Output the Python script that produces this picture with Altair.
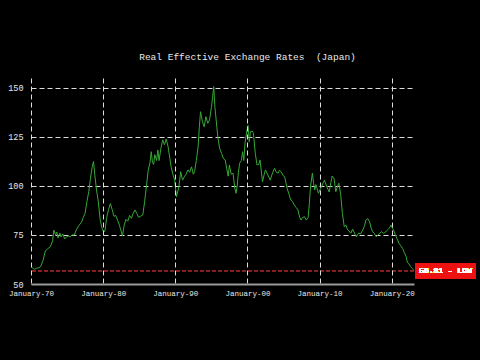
import altair as alt
import pandas as pd

months = [
    "1970-01","1970-04","1970-07","1970-10","1971-01","1971-05","1971-09","1972-01","1972-05","1972-09",
    "1973-01","1973-03","1973-06","1973-08","1973-10","1974-01","1974-03","1974-06","1974-09","1974-12",
    "1975-03","1975-06","1975-09","1976-01","1976-05","1976-09","1977-01","1977-04","1977-07","1977-10",
    "1978-01","1978-04","1978-07","1978-09","1978-11","1979-02","1979-05","1979-08","1979-11","1980-02",
    "1980-04","1980-07","1980-10","1981-01","1981-04","1981-07","1981-10","1982-01","1982-04","1982-07",
    "1982-09","1982-12","1983-03","1983-06","1983-09","1983-12","1984-03","1984-06","1984-09","1984-12",
    "1985-03","1985-07","1985-10","1986-01","1986-04","1986-07","1986-09","1986-11","1987-01","1987-03",
    "1987-06","1987-08","1987-10","1988-01","1988-04","1988-07","1988-10","1989-01","1989-04","1989-06",
    "1989-09","1989-12","1990-03","1990-05","1990-07","1990-10","1991-01","1991-04","1991-07","1991-10",
    "1992-01","1992-04","1992-07","1992-09","1992-12","1993-03","1993-05","1993-07","1993-10","1994-01",
    "1994-04","1994-07","1994-10","1995-01","1995-03","1995-05","1995-07","1995-09","1995-12","1996-03",
    "1996-06","1996-09","1996-12","1997-03","1997-05","1997-07","1997-10","1998-01","1998-04","1998-06",
    "1998-08","1998-10","1998-12","1999-03","1999-05","1999-07","1999-09","1999-12","2000-02","2000-04",
    "2000-06","2000-09","2000-11","2001-02","2001-05","2001-08","2001-10","2002-02","2002-05","2002-07",
    "2002-11","2003-03","2003-06","2003-10","2004-01","2004-04","2004-06","2004-09","2005-01","2005-03",
    "2005-07","2005-10","2006-01","2006-04","2006-07","2006-10","2007-01","2007-04","2007-06","2007-09",
    "2007-12","2008-03","2008-06","2008-08","2008-10","2009-01","2009-03","2009-05","2009-07","2009-11",
    "2010-03","2010-06","2010-09","2011-01","2011-05","2011-08","2011-10","2012-01","2012-04","2012-07",
    "2012-09","2012-12","2013-03","2013-06","2013-09","2013-11","2014-02","2014-05","2014-08","2014-11",
    "2015-02","2015-06","2015-09","2016-01","2016-04","2016-06","2016-09","2016-12","2017-03","2017-05",
    "2017-08","2017-11","2018-02","2018-05","2018-08","2018-11","2019-01","2019-04","2019-06","2019-09",
    "2019-12","2020-02","2020-04","2020-07","2020-10","2021-01","2021-04","2021-07","2021-10","2022-01",
    "2022-03","2022-05","2022-08","2022-11","2023-02",
]
reer = [
    59.0,58.0,57.5,58.0,58.2,58.8,62.0,67.0,68.0,69.0,
    72.0,77.5,75.0,76.5,73.5,76.0,74.0,75.5,73.0,74.0,
    74.5,74.0,75.0,75.0,78.0,80.0,81.5,84.0,86.0,92.0,
    97.0,104.0,110.0,112.5,106.0,98.0,92.0,83.0,78.5,76.5,
    77.0,84.0,88.0,91.0,88.0,84.5,85.0,82.5,80.0,77.0,
    74.5,80.0,83.0,82.0,85.0,83.5,86.0,87.8,86.0,84.0,
    84.5,85.2,92.0,100.0,108.0,112.0,117.5,112.0,111.0,116.0,
    113.0,118.4,113.0,119.0,123.5,121.0,124.0,120.0,114.0,109.8,
    106.0,103.0,94.5,97.0,99.6,107.3,103.0,104.7,106.0,108.2,
    107.0,109.8,106.0,107.3,113.0,120.0,130.0,137.9,133.0,130.2,
    135.4,132.0,133.7,140.0,145.0,150.7,140.0,133.7,124.3,119.0,
    116.7,114.0,113.3,108.2,105.0,110.7,106.0,106.5,99.0,96.3,
    100.0,107.0,111.6,113.0,117.5,113.0,122.0,128.0,131.0,122.6,
    127.7,128.0,126.9,116.7,110.7,111.0,113.3,102.2,106.0,108.2,
    105.6,103.0,106.0,109.0,107.0,106.5,108.0,107.3,105.0,104.7,
    98.8,96.0,92.9,92.0,90.3,89.0,87.8,84.0,82.6,84.0,
    84.3,82.6,84.0,91.2,100.0,106.5,101.4,98.0,100.7,96.3,
    98.8,101.0,103.0,99.6,97.0,102.0,105.1,103.8,97.1,100.0,
    101.4,96.0,86.0,79.2,80.0,78.0,77.0,75.9,78.0,76.0,
    74.1,76.0,75.5,77.6,80.0,82.6,83.4,81.8,78.4,76.7,
    75.9,74.1,75.0,75.9,76.7,75.9,76.0,77.0,77.6,78.5,
    80.1,78.5,77.6,75.0,73.0,70.8,69.5,68.2,66.0,63.9,
    61.0,60.6,59.0,58.0,56.81,
]
low_value = 56.81
low_label = "56.81 - LOW"
y_ticks = [50, 75, 100, 125, 150]
x_ticks = ["1970-01-01", "1980-01-01", "1990-01-01", "2000-01-01", "2010-01-01", "2020-01-01"]

df = pd.DataFrame({"date": pd.to_datetime(months), "value": reer})

W, H = 383, 206
mono = "Liberation Mono"

x_scale = alt.Scale(domain=["1970-01-01", "2023-02-01"], nice=False)
y_scale = alt.Scale(domain=[50, 155.1], nice=False, zero=False)

line = alt.Chart(df).mark_line(color="#36a836", strokeWidth=1, clip=True).encode(
    x=alt.X("date:T", scale=x_scale,
            axis=alt.Axis(values=[pd.Timestamp(t).isoformat() for t in x_ticks], format="%B-%y",
                          title=None, grid=True, gridColor="#dddddd", gridDash=[5, 3],
                          gridWidth=1, ticks=False, domainColor="#9a9a9a", domainWidth=2,
                          labelColor="#e8e8e8", labelFont=mono, labelFontSize=7.5,
                          labelPadding=5, labelFlush=False, labelOverlap=False, zindex=1)),
    y=alt.Y("value:Q", scale=y_scale,
            axis=alt.Axis(values=y_ticks, title=None, grid=True, gridColor="#dddddd",
                          gridDash=[5, 3], gridWidth=1, ticks=False, domain=False,
                          labelColor="#e8e8e8", labelFont=mono, labelFontSize=8.5,
                          labelPadding=8, labelFlush=False)),
)

rule = alt.Chart(df).mark_rule(color="#8a2525", strokeDash=[4, 2], strokeWidth=1).encode(
    y=alt.datum(low_value, scale=y_scale)
)

box = alt.Chart(df).mark_rect(color="#ee1111").encode(
    x=alt.value(W + 1), x2=alt.value(W + 62),
    y=alt.datum(60.7, scale=y_scale), y2=alt.datum(52.6),
)

label = alt.Chart(df).mark_text(color="white", font=mono, fontSize=8, align="center",
                                baseline="middle").encode(
    x=alt.value(W + 31.5), y=alt.datum(low_value, scale=y_scale), text=alt.value(low_label)
)

chart = alt.layer(line, rule, box, label).properties(
    width=W, height=H,
    title=alt.TitleParams("Real Effective Exchange Rates\u00a0 (Japan)", font=mono, fontSize=9.5,
                          fontWeight="normal", color="#e8e8e8", anchor="middle", dx=25,
                          offset=7, baseline="bottom"),
    autosize=alt.AutoSizeParams(type="none"),
    padding={"left": 31, "top": 78, "right": 64, "bottom": 40},
    background="#000000",
).configure_view(stroke=None)

chart.save("out.html", embed_options={"renderer": "svg", "actions": False,
                                      "defaultStyle": "body{margin:0;background:#000;overflow:hidden}"})
